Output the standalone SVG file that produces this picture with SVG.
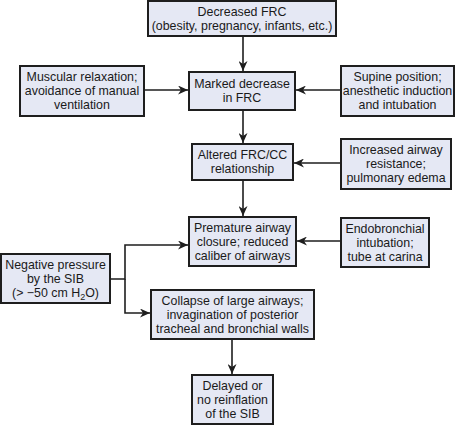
<svg xmlns="http://www.w3.org/2000/svg" width="461" height="425" viewBox="0 0 461 425">
<defs>
<style>
.box{fill:#e5e8f4;stroke:#1e1e1e;stroke-width:2}
.t{font-family:"Liberation Sans",Arial,sans-serif;font-size:12.4px;fill:#1a1a1a;text-anchor:middle}
.c{fill:none;stroke:#1e1e1e;stroke-width:1.6}
</style>
<marker id="ah" viewBox="0 0 10 10" refX="10" refY="5" markerWidth="10" markerHeight="9" markerUnits="userSpaceOnUse" orient="auto" preserveAspectRatio="none">
<path d="M0,0 L10,5 L0,10 L3,5 Z" fill="#1e1e1e"/>
</marker>
</defs>
<rect width="461" height="425" fill="#ffffff"/>
<g id="connectors">
<path class="c" d="M243,36 V71" marker-end="url(#ah)"/>
<path class="c" d="M144,90 H188" marker-end="url(#ah)"/>
<path class="c" d="M341,90 H296" marker-end="url(#ah)"/>
<path class="c" d="M243,110 V143" marker-end="url(#ah)"/>
<path class="c" d="M341,163 H294" marker-end="url(#ah)"/>
<path class="c" d="M243,180 V216" marker-end="url(#ah)"/>
<path class="c" d="M341,241 H297" marker-end="url(#ah)"/>
<path class="c" d="M110,279 H125 V245 H188" marker-end="url(#ah)"/>
<path class="c" d="M125,279 V313 H150" marker-end="url(#ah)"/>
<path class="c" d="M232,339 V374" marker-end="url(#ah)"/>
</g>
<g id="n1"><rect class="box" x="148" y="1" width="188" height="35"/>
<text class="t" x="242" y="16">Decreased FRC</text><text class="t" x="242" y="30">(obesity, pregnancy, infants, etc.)</text></g>
<g id="n2"><rect class="box" x="20" y="66" width="124" height="50"/>
<text class="t" x="82" y="81">Muscular relaxation;</text><text class="t" x="82" y="95">avoidance of manual</text><text class="t" x="82" y="109">ventilation</text></g>
<g id="n3"><rect class="box" x="189" y="72" width="106" height="38"/>
<text class="t" x="242" y="88">Marked decrease</text><text class="t" x="242" y="102">in FRC</text></g>
<g id="n4"><rect class="box" x="341" y="66" width="113" height="50"/>
<text class="t" x="397.5" y="81">Supine position;</text><text class="t" x="397.5" y="95">anesthetic induction</text><text class="t" x="397.5" y="109">and intubation</text></g>
<g id="n5"><rect class="box" x="192" y="144" width="101" height="36"/>
<text class="t" x="242.5" y="159">Altered FRC/CC</text><text class="t" x="242.5" y="173">relationship</text></g>
<g id="n6"><rect class="box" x="341" y="139" width="110" height="50"/>
<text class="t" x="396" y="154">Increased airway</text><text class="t" x="396" y="168">resistance;</text><text class="t" x="396" y="182">pulmonary edema</text></g>
<g id="n7"><rect class="box" x="189" y="217" width="107" height="49"/>
<text class="t" x="242.5" y="232">Premature airway</text><text class="t" x="242.5" y="246">closure; reduced</text><text class="t" x="242.5" y="260">caliber of airways</text></g>
<g id="n8"><rect class="box" x="341" y="218" width="88" height="49"/>
<text class="t" x="385" y="233">Endobronchial</text><text class="t" x="385" y="247">intubation;</text><text class="t" x="385" y="261">tube at carina</text></g>
<g id="n9"><rect class="box" x="1" y="254" width="109" height="49"/>
<text class="t" x="55.5" y="269">Negative pressure</text><text class="t" x="55.5" y="283">by the SIB</text><text class="t" x="55.5" y="297">(&gt; −50 cm H<tspan font-size="9" dy="3">2</tspan><tspan dy="-3">O)</tspan></text></g>
<g id="n10"><rect class="box" x="151" y="290" width="163" height="49"/>
<text class="t" x="232.5" y="305">Collapse of large airways;</text><text class="t" x="232.5" y="319">invagination of posterior</text><text class="t" x="232.5" y="333">tracheal and bronchial walls</text></g>
<g id="n11"><rect class="box" x="192" y="375" width="81" height="49"/>
<text class="t" x="232.5" y="390">Delayed or</text><text class="t" x="232.5" y="404">no reinflation</text><text class="t" x="232.5" y="418">of the SIB</text></g>
</svg>
